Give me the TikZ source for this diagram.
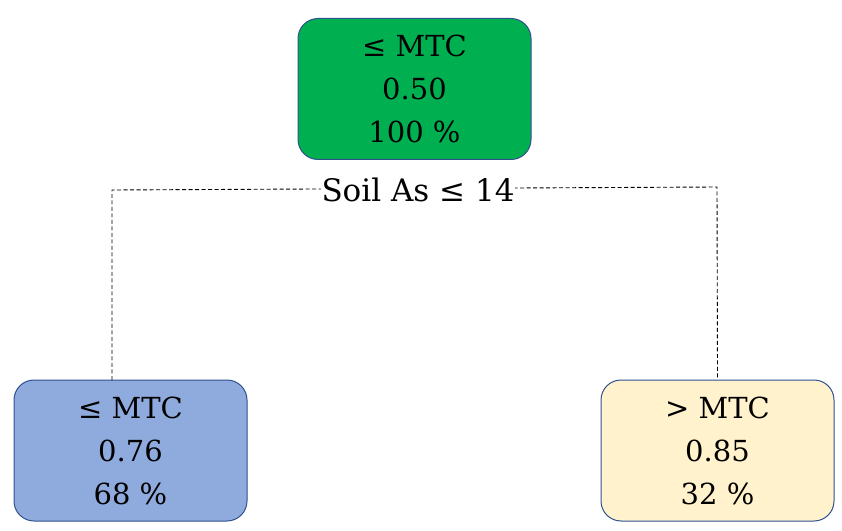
\documentclass[tikz,border=0pt]{standalone}
\usepackage{fontspec}
\setmainfont{DejaVu Serif}
\definecolor{boxline}{HTML}{2F528F}
\definecolor{gfill}{HTML}{00B050}
\definecolor{bfill}{HTML}{8FAADC}
\definecolor{yfill}{HTML}{FFF2CC}
\tikzset{
  leaf/.style={draw=boxline, line width=1pt, rounded corners=20pt,
    minimum width=233pt, minimum height=141pt, inner sep=0pt,
    align=center, font=\fontsize{29}{43}\selectfont},
  split/.style={fill=white, inner sep=0.5pt, font=\fontsize{31}{34}\selectfont},
  conn/.style={dash pattern=on 4pt off 2.5pt, line width=0.9pt}
}
\begin{document}
\begin{tikzpicture}[x=1pt,y=1pt]
\useasboundingbox (0,0) rectangle (842,530);
\node[leaf, fill=gfill] (T) at (414.5,441) {≤ MTC\\0.50\\100 \%};
\node[leaf, fill=bfill] (L) at (130.5,79.5) {≤ MTC\\0.76\\68 \%};
\node[leaf, fill=yfill] (R) at (717.5,79.5) {> MTC\\0.85\\32 \%};
\coordinate (la) at (112,150);
\coordinate (lc) at (112,340);
\coordinate (rc) at (717,343);
\draw[conn] (la) -- (lc) -- (rc) -- (R.north);
\node[split] (S) at (418,340) {Soil As ≤ 14};
\end{tikzpicture}
\end{document}
